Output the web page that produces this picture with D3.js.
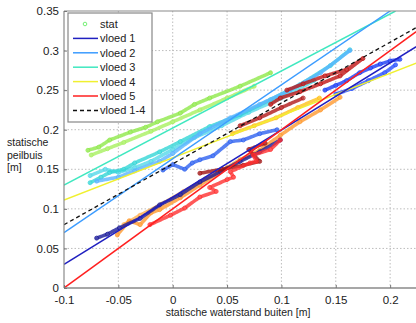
<!DOCTYPE html>
<html><head><meta charset="utf-8">
<script src="https://cdn.jsdelivr.net/npm/d3@7/dist/d3.min.js"></script>
<style>body{margin:0;background:#fff}svg{display:block}text{font-family:"Liberation Sans",Arial,sans-serif}</style>
</head><body><svg id="c" width="416" height="323"></svg>
<script>
// ---- data ----
const xTicks = [-0.1, -0.05, 0, 0.05, 0.1, 0.15, 0.2];
const xTickLabels = ["-0.1", "-0.05", "0", "0.05", "0.1", "0.15", "0.2"];
const yTicks = [0, 0.05, 0.1, 0.15, 0.2, 0.25, 0.3, 0.35];
const yTickLabels = ["0", "0.05", "0.1", "0.15", "0.2", "0.25", "0.3", "0.35"];
const legendNames = ["stat", "vloed 1", "vloed 2", "vloed 3", "vloed 4", "vloed 5", "vloed 1-4"];
// fitted lines: [x, y] end points
const fitVloed1 = [[-0.1, 0.030], [0.224, 0.305]];
const fitVloed2 = [[-0.1, 0.070], [0.200, 0.350]];
const fitVloed3 = [[-0.1, 0.130], [0.205, 0.350]];
const fitVloed4 = [[-0.1, 0.111], [0.224, 0.284]];
const fitVloed5 = [[-0.1, 0.000], [0.224, 0.324]];
const fitVloed14 = [[-0.1, 0.080], [0.224, 0.329]];
// measured static points (traces), coloured per event
const statGreen = [[-0.078,0.174],[-0.068,0.178],[-0.058,0.187],[-0.039,0.197],[-0.025,0.203],[-0.014,0.210],[0.007,0.221],[0.020,0.232],[0.034,0.240],[0.062,0.255],[0.090,0.272]];
const statGreen2 = [[-0.075,0.168],[-0.060,0.176],[-0.045,0.184],[-0.020,0.198],[0.000,0.210],[0.025,0.225],[0.050,0.240],[0.075,0.255]];
const statCyan = [[-0.076,0.133],[-0.066,0.140],[-0.058,0.146],[-0.045,0.150],[-0.035,0.158],[-0.012,0.172],[0.007,0.185],[0.034,0.204],[0.062,0.219],[0.090,0.238],[0.117,0.257],[0.145,0.281],[0.163,0.301]];
const statCyan2 = [[-0.076,0.142],[-0.062,0.150],[-0.050,0.146],[-0.035,0.152],[-0.020,0.160],[0.000,0.175],[0.020,0.190],[0.045,0.205],[0.070,0.222],[0.100,0.240],[0.130,0.262]];
const statLightBlue = [[-0.070,0.135],[-0.050,0.140],[-0.035,0.148],[-0.012,0.160],[0.000,0.170],[0.025,0.195],[0.053,0.215],[0.080,0.232],[0.108,0.250],[0.136,0.272],[0.163,0.300]];
const statBlue = [[-0.009,0.149],[0.000,0.156],[0.011,0.150],[0.018,0.158],[0.025,0.162],[0.037,0.167],[0.053,0.185],[0.065,0.187],[0.080,0.195],[0.096,0.200]];
const statBlueRight = [[0.140,0.250],[0.150,0.256],[0.160,0.262],[0.172,0.272],[0.182,0.278],[0.191,0.283],[0.200,0.287],[0.209,0.289]];
const statBlueRight2 = [[0.150,0.245],[0.165,0.252],[0.180,0.262],[0.195,0.272],[0.205,0.282]];
const statNavy = [[-0.070,0.063],[-0.060,0.068],[-0.049,0.076],[-0.030,0.088],[-0.012,0.105],[0.007,0.118],[0.025,0.134],[0.044,0.147],[0.062,0.160],[0.080,0.172],[0.099,0.187]];
const statOrange = [[-0.051,0.067],[-0.040,0.085],[-0.030,0.080],[-0.020,0.095],[-0.012,0.099],[0.007,0.114],[0.025,0.130],[0.044,0.147],[0.062,0.162],[0.080,0.174],[0.099,0.193],[0.117,0.210],[0.136,0.225],[0.154,0.241]];
const statOrange2 = [[-0.045,0.080],[-0.030,0.092],[-0.010,0.106],[0.010,0.122],[0.030,0.138],[0.050,0.152]];
const statYellow = [[0.055,0.195],[0.075,0.205],[0.095,0.215],[0.115,0.228],[0.135,0.240]];
const statDarkRedLow = [[0.025,0.145],[0.045,0.150],[0.065,0.155],[0.080,0.160],[0.070,0.175],[0.085,0.183]];
const statDarkRedHigh = [[0.090,0.232],[0.099,0.240],[0.117,0.248],[0.136,0.258],[0.154,0.268],[0.175,0.290],[0.160,0.276],[0.140,0.268],[0.120,0.258],[0.105,0.250]];
const statDarkRedMid = [[0.062,0.205],[0.080,0.215],[0.100,0.228],[0.120,0.240]];
const statRed = [[-0.021,0.080],[-0.002,0.092],[0.011,0.101],[0.025,0.115],[0.040,0.122],[0.034,0.127],[0.050,0.137],[0.056,0.140],[0.053,0.147],[0.071,0.158],[0.077,0.160],[0.074,0.168],[0.090,0.175],[0.099,0.187]];

const statTraces = [
  {pts: statCyan2, color: "#55d8e8"},
  {pts: statCyan, color: "#33d6d6"},
  {pts: statGreen2, color: "#a8f060"},
  {pts: statGreen, color: "#8ee84a"},
  {pts: statLightBlue, color: "#5ab4ff"},
  {pts: statBlue, color: "#2e62f0"},
  {pts: statBlueRight2, color: "#2850ff"},
  {pts: statBlueRight, color: "#1a3cf5"},
  {pts: statYellow, color: "#ffc21a"},
  {pts: statOrange2, color: "#ffb050"},
  {pts: statOrange, color: "#ff9a30"},
  {pts: statNavy, color: "#1a1a99"},
  {pts: statDarkRedLow, color: "#a01010"},
  {pts: statDarkRedMid, color: "#b01818"},
  {pts: statDarkRedHigh, color: "#c01414"},
  {pts: statRed, color: "#ff3030"}
];
const fits = [
  {pts: fitVloed4, color: "#f0f030", dash: null},
  {pts: fitVloed3, color: "#40e8c0", dash: null},
  {pts: fitVloed2, color: "#3c9cff", dash: null},
  {pts: fitVloed1, color: "#2020c0", dash: null},
  {pts: fitVloed5, color: "#ff2020", dash: null},
  {pts: fitVloed14, color: "#111", dash: "4,3"}
];

// ---- layout ----
const svg = d3.select("#c");
const L = 64, R = 416, T = 11, B = 288;
const x = d3.scaleLinear().domain([-0.1, 0.2238]).range([L, R]);
const y = d3.scaleLinear().domain([0, 0.35]).range([B, T]);

svg.append("clipPath").attr("id", "clip").append("rect").attr("x", L).attr("y", T).attr("width", R - L).attr("height", B - T);

// grid
const g = svg.append("g");
g.selectAll(".gx").data(xTicks.slice(1)).enter().append("line")
  .attr("x1", d => x(d)).attr("x2", d => x(d)).attr("y1", T).attr("y2", B)
  .attr("stroke", "#bdbdbd").attr("stroke-dasharray", "1.5,2").attr("stroke-width", 1);
g.selectAll(".gy").data(yTicks.slice(1, -1)).enter().append("line")
  .attr("y1", d => y(d)).attr("y2", d => y(d)).attr("x1", L).attr("x2", R)
  .attr("stroke", "#bdbdbd").attr("stroke-dasharray", "1.5,2").attr("stroke-width", 1);

const line = d3.line().x(d => x(d[0])).y(d => y(d[1]));
const plot = svg.append("g").attr("clip-path", "url(#clip)");

// stat traces: dense small circles, drawn as a thick dotted band with markers
statTraces.forEach(t => {
  plot.append("path").attr("d", line(t.pts)).attr("fill", "none")
    .attr("stroke", t.color).attr("stroke-width", 3.6).attr("stroke-linejoin", "round")
    .attr("stroke-linecap", "round").attr("stroke-dasharray", "2.5,0.8").attr("opacity", 0.8);
  plot.selectAll(null).data(t.pts).enter().append("circle")
    .attr("cx", d => x(d[0])).attr("cy", d => y(d[1])).attr("r", 2)
    .attr("fill", "none").attr("stroke", t.color).attr("stroke-width", 0.8);
});

// fitted lines
fits.forEach(f => {
  plot.append("path").attr("d", line(f.pts)).attr("fill", "none")
    .attr("stroke", f.color).attr("stroke-width", f.dash ? 1.3 : 1.5)
    .attr("stroke-dasharray", f.dash);
});

// axes box
svg.append("line").attr("x1", L).attr("x2", R).attr("y1", B).attr("y2", B).attr("stroke", "#8a8a8a").attr("stroke-width", 1.5);
svg.append("line").attr("x1", L).attr("x2", R).attr("y1", T).attr("y2", T).attr("stroke", "#8a8a8a").attr("stroke-width", 1.2);
svg.append("line").attr("x1", L).attr("x2", L).attr("y1", T).attr("y2", B).attr("stroke", "#8a8a8a").attr("stroke-width", 1.2);

// ticks
const xAxis = d3.axisBottom(x).tickValues(xTicks).tickFormat((d, i) => xTickLabels[i]).tickSize(-3).tickPadding(8);
const gx = svg.append("g").attr("transform", `translate(0,${B})`).call(xAxis);
gx.select(".domain").remove();
gx.selectAll("line").attr("stroke", "#777");
gx.selectAll("text").attr("font-size", 11.5).attr("fill", "#1a1a1a").attr("font-family", "Liberation Sans, Arial, sans-serif");

const yAxis = d3.axisLeft(y).tickValues(yTicks).tickFormat((d, i) => yTickLabels[i]).tickSize(-3).tickPadding(5);
const gy = svg.append("g").attr("transform", `translate(${L},0)`).call(yAxis);
gy.select(".domain").remove();
gy.selectAll("line").attr("stroke", "#777");
gy.selectAll("text").attr("font-size", 11.5).attr("fill", "#1a1a1a").attr("font-family", "Liberation Sans, Arial, sans-serif");

// axis labels
svg.append("text").attr("x", 238).attr("y", 316).attr("text-anchor", "middle")
  .attr("font-size", 10.5).attr("fill", "#222").text("statische waterstand buiten [m]");
const yl = svg.append("text").attr("x", 7).attr("y", 146).attr("font-size", 10.5).attr("fill", "#222");
["statische", "peilbuis", "[m]"].forEach((s, i) => yl.append("tspan").attr("x", 7).attr("dy", i ? 12.5 : 0).text(s));

// legend
const lg = svg.append("g");
lg.append("rect").attr("x", 68).attr("y", 13).attr("width", 84).attr("height", 109)
  .attr("fill", "#fff").attr("stroke", "#888").attr("stroke-width", 1.2);
const legColors = ["#66ee66", "#2020c0", "#3c9cff", "#40e8c0", "#f0f030", "#ff2020", "#111"];
legendNames.forEach((n, i) => {
  const cy = 24 + i * 14.4;
  if (i === 0) {
    lg.append("circle").attr("cx", 85).attr("cy", cy).attr("r", 1.8).attr("fill", "none").attr("stroke", legColors[0]).attr("stroke-width", 0.9);
  } else {
    lg.append("line").attr("x1", 73).attr("x2", 98).attr("y1", cy).attr("y2", cy)
      .attr("stroke", legColors[i]).attr("stroke-width", 1.5).attr("stroke-dasharray", i === 6 ? "4,3" : null);
  }
  lg.append("text").attr("x", 100).attr("y", cy + 4).attr("font-size", 11).attr("fill", "#222").text(n);
});
</script></body></html>
